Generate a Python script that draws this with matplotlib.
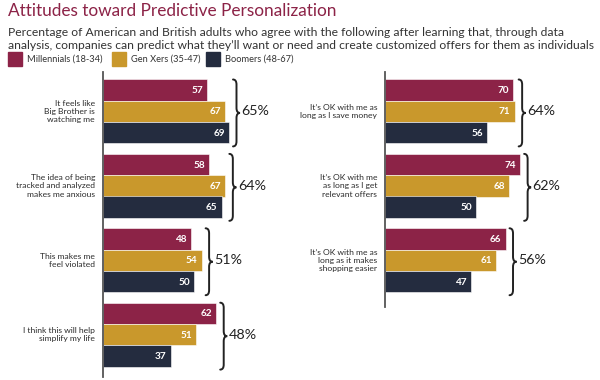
import matplotlib
matplotlib.use("Agg")
import matplotlib.pyplot as plt
from matplotlib.path import Path
from matplotlib.patches import PathPatch, Rectangle

# data
series = ["Millennials (18-34)", "Gen Xers (35-47)", "Boomers (48-67)"]
colors = ["#8c2347", "#c9982c", "#242c3f"]

left_labels = ["It feels like\nBig Brother is\nwatching me",
               "The idea of being\ntracked and analyzed\nmakes me anxious",
               "This makes me\nfeel violated",
               "I think this will help\nsimplify my life"]
left_values = [[57, 67, 69], [58, 67, 65], [48, 54, 50], [62, 51, 37]]
left_totals = ["65%", "64%", "51%", "48%"]

right_labels = ["It\u2019s OK with me as\nlong as I save money",
                "It\u2019s OK with me\nas long as I get\nrelevant offers",
                "It\u2019s OK with me as\nlong as it makes\nshopping easier"]
right_values = [[70, 71, 56], [74, 68, 50], [66, 61, 47]]
right_totals = ["64%", "62%", "56%"]

title = "Attitudes toward Predictive Personalization"
subtitle = ("Percentage of American and British adults who agree with the following after learning that, through data\n"
            "analysis, companies can predict what they\u2019ll want or need and create customized offers for them as individuals")

plt.rcParams['font.family'] = ['Lato', 'DejaVu Sans']

W, H = 600, 380
fig = plt.figure(figsize=(6, 3.8), dpi=100)

BAR_H = 21.3
GROUP_STEP = 74.4
PX = 100 / 182.6  # data units per pixel along x


def fx(px):
    return px / W


def fy(py):
    return 1 - py / H


def brace(ax, x0, top, bot, w=7):
    # curly brace opening to the left, tip pointing right
    mid = (top + bot) / 2
    r = 5
    xm = x0 + w / 2 * PX
    xt = x0 + w * PX
    verts = [(x0, top), (xm, top), (xm, top + r),
             (xm, mid - r), (xm, mid), (xt, mid),
             (xm, mid), (xm, mid + r),
             (xm, bot - r), (xm, bot), (x0, bot)]
    codes = [Path.MOVETO, Path.CURVE3, Path.CURVE3,
             Path.LINETO, Path.CURVE3, Path.CURVE3,
             Path.CURVE3, Path.CURVE3,
             Path.LINETO, Path.CURVE3, Path.CURVE3]
    ax.add_patch(PathPatch(Path(verts, codes), fill=False, lw=1.4,
                           edgecolor="#222222", capstyle="round", clip_on=False))
    return xt


def panel(left_px, bottom_px, labels, values, totals):
    top_px = 72
    h = bottom_px - top_px
    ax = fig.add_axes([fx(left_px), fy(bottom_px), 182.6 / W, h / H])
    ax.set_xlim(0, 100)
    ax.set_ylim(h, 0)
    for g, (lab, vals, tot) in enumerate(zip(labels, values, totals)):
        start = 7.5 + g * GROUP_STEP
        for k, v in enumerate(vals):
            yc = start + BAR_H * (k + 0.5)
            ax.barh(yc, v, height=BAR_H, color=colors[k], edgecolor="white", lw=0.4)
            ax.text(v - 4 * PX, yc + 0.5, str(v), ha="right", va="center",
                    color="white", fontsize=7.2, fontweight="bold")
        mid = start + 1.5 * BAR_H
        ax.text(-8 * PX, mid, lab, ha="right", va="center", fontsize=6.1,
                color="#2a2a2a", linespacing=1.2)
        xt = brace(ax, max(vals) + 4 * PX, start, start + 3 * BAR_H + 3)
        ax.text(xt + 1.5 * PX, mid, tot, ha="left", va="center", fontsize=10.3,
                color="#222222")
    for s in ["top", "right", "bottom"]:
        ax.spines[s].set_visible(False)
    ax.spines["left"].set_color("#555555")
    ax.spines["left"].set_linewidth(1.3)
    ax.set_xticks([])
    ax.set_yticks([])
    return ax


panel(103, 377, left_labels, left_values, left_totals)
panel(385, 307, right_labels, right_values, right_totals)

fig.text(fx(8), fy(11), title, fontsize=12.4, color="#8c2347", va="center")
fig.text(fx(8), fy(39), subtitle, fontsize=8.7, color="#333333", va="center",
         linespacing=1.2)

# legend
leg_x = [8, 112, 206]
for x, name, c in zip(leg_x, series, colors):
    fig.patches.append(Rectangle((fx(x), fy(66)), 14 / W, 14 / H, color=c,
                                 transform=fig.transFigure, figure=fig))
    fig.text(fx(x + 19), fy(59), name, fontsize=6.7, color="#333333", va="center")

fig.savefig("out.png", dpi=100)
